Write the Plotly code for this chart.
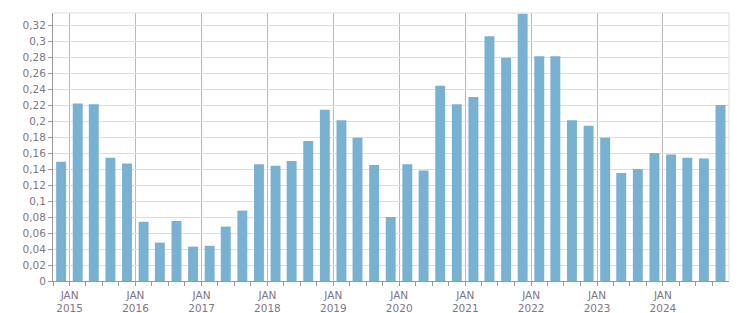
import plotly.graph_objects as go

quarters = ["2014-11-15", "2015-02-15", "2015-05-15", "2015-08-15", "2015-11-15",
            "2016-02-15", "2016-05-15", "2016-08-15", "2016-11-15",
            "2017-02-15", "2017-05-15", "2017-08-15", "2017-11-15",
            "2018-02-15", "2018-05-15", "2018-08-15", "2018-11-15",
            "2019-02-15", "2019-05-15", "2019-08-15", "2019-11-15",
            "2020-02-15", "2020-05-15", "2020-08-15", "2020-11-15",
            "2021-02-15", "2021-05-15", "2021-08-15", "2021-11-15",
            "2022-02-15", "2022-05-15", "2022-08-15", "2022-11-15",
            "2023-02-15", "2023-05-15", "2023-08-15", "2023-11-15",
            "2024-02-15", "2024-05-15", "2024-08-15", "2024-11-15"]
values = [0.149, 0.222, 0.221, 0.154, 0.147,
          0.074, 0.048, 0.075, 0.043,
          0.044, 0.068, 0.088, 0.146,
          0.144, 0.150, 0.175, 0.214,
          0.201, 0.179, 0.145, 0.080,
          0.146, 0.138, 0.244, 0.221,
          0.230, 0.306, 0.279, 0.334,
          0.281, 0.281, 0.201, 0.194,
          0.179, 0.135, 0.140, 0.160,
          0.158, 0.154, 0.153, 0.220]
years = list(range(2015, 2025))
tick_vals = [f"{y}-01-01" for y in years]
tick_text = [f"JAN<br>{y}" for y in years]
minor_vals = [f"{y}-{m:02d}-01" for y in range(2014, 2025) for m in (4, 7, 10)]

fig = go.Figure(go.Bar(
    x=quarters, y=values,
    width=55 * 86400000,
    marker=dict(color="#78b1d2", line=dict(width=0)),
    hoverinfo="x+y",
))

txt = "#7f7584"
fig.update_layout(
    width=751, height=313,
    margin=dict(l=53, r=22, t=13, b=32),
    paper_bgcolor="white", plot_bgcolor="white",
    separators=",.",
    showlegend=False,
    font=dict(family="DejaVu Sans", size=10, color=txt),
    xaxis=dict(
        type="date",
        automargin=False,
        range=["2014-10-01", "2025-01-01"],
        tickmode="array", tickvals=tick_vals, ticktext=tick_text,
        ticks="outside", ticklen=4, tickcolor="#999999",
        showgrid=True, gridcolor="#b8b8b8", gridwidth=1,
        showline=True, linecolor="#999999", linewidth=1,
        minor=dict(tickmode="array", tickvals=minor_vals, ticks="outside",
                   ticklen=4, tickcolor="#999999", showgrid=False),
        tickfont=dict(color=txt, size=10.5),
        zeroline=False,
    ),
    yaxis=dict(
        automargin=False,
        range=[0, 0.335],
        tickmode="linear", tick0=0, dtick=0.02,
        ticks="outside", ticklen=4, tickcolor="#999999",
        showgrid=True, gridcolor="#dddddd", gridwidth=1,
        showline=True, linecolor="#999999", linewidth=1,
        tickfont=dict(color=txt, size=10.5),
        zeroline=False,
    ),
    shapes=[
        dict(type="line", xref="paper", yref="paper", x0=0, x1=1, y0=1, y1=1,
             line=dict(color="#dddddd", width=1)),
        dict(type="line", xref="paper", yref="paper", x0=1, x1=1, y0=0, y1=1,
             line=dict(color="#dddddd", width=1)),
    ],
)

fig.write_html("out.html")
